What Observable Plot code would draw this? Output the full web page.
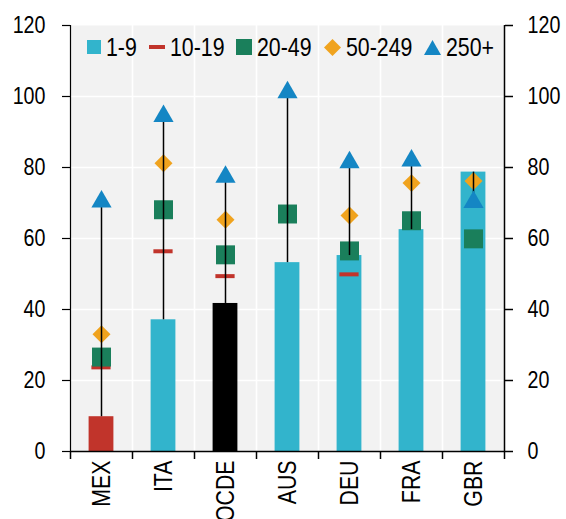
<!DOCTYPE html>
<html>
<head>
<meta charset="utf-8">
<script src="https://cdn.jsdelivr.net/npm/d3@7"></script>
<script src="https://cdn.jsdelivr.net/npm/@observablehq/plot@0.6"></script>
<style>
  body { margin: 0; background: #fff; }
  #chart { position: relative; width: 566px; height: 519px; overflow: hidden;
           font-family: "Liberation Sans", Arial, sans-serif; }
  #legend { position: absolute; left: 87px; top: 33px; height: 28px; display: flex; align-items: center;
            font-size: 26px; color: #000; white-space: nowrap; }
  #legend .sw { display: block; flex: none; }
  #legend span { display: inline-block; line-height: 28px; transform-origin: 0 50%; flex: none; }
</style>
</head>
<body>
<div id="chart"></div>
<script>
// ---- data ----
const countries = ["MEX", "ITA", "OCDE", "AUS", "DEU", "FRA", "GBR"];
const size1_9    = [9.8, 37.1, 41.7, 53.2, 55.2, 62.5, 78.7];
const size10_19  = [23.7, 56.4, 49.4, null, 49.9, null, null];
const size20_49  = [26.6, 68.1, 55.4, 66.9, 56.5, 65.0, 59.9];
const size50_249 = [33.0, 81.2, 65.3, null, 66.5, 75.6, 76.2];
const size250    = [71.2, 95.3, 78.2, 102.0, 82.3, 82.8, 71.1];
const seriesNames = ["1-9", "10-19", "20-49", "50-249", "250+"];
const yTicks = [0, 20, 40, 60, 80, 100, 120];

// ---- styles ----
const C = { cyan: "#32b4cc", red: "#c1342b", green: "#1a7f5b", orange: "#f0a31e", blue: "#1486c4" };
const barFillFor = c => c === "MEX" ? C.red : c === "OCDE" ? "#000000" : C.cyan;
const NARROW = 0.82; // horizontal condensing of text (reference uses a narrow face)

const rows = countries.map((c, i) => ({
  c, i, v1: size1_9[i], v10: size10_19[i], v20: size20_49[i], v50: size50_249[i], v250: size250[i]
}));
const xDomain = [-0.5, countries.length - 0.5];
const boundaries = d3.range(countries.length + 1).map(k => k - 0.5);
const half = 0.2;      // bar half-width in band units
const dashHalf = 0.155;

const plot = Plot.plot({
  width: 566,
  height: 519,
  marginTop: 25,
  marginBottom: 68,
  marginLeft: 70,
  marginRight: 62,
  style: { fontFamily: '"Liberation Sans", Arial, sans-serif', background: "white", overflow: "visible" },
  x: { type: "linear", domain: xDomain, axis: null },
  y: { domain: [0, 120], axis: null },
  color: { type: "identity" },
  marks: [
    Plot.frame({ fill: "#f2f2f2", stroke: "none" }),
    Plot.ruleY(yTicks.slice(1, -1), { stroke: "white", strokeWidth: 1.7 }),
    Plot.ruleX(boundaries.slice(1, -1), { stroke: "white", strokeWidth: 1.7 }),
    // 1-9 bars
    Plot.rectY(rows, { x1: d => d.i - half, x2: d => d.i + half, y: "v1", fill: d => barFillFor(d.c) }),
    // 10-19 dashes
    Plot.ruleY(rows.filter(d => d.v10 != null), { y: "v10", x1: d => d.i - dashHalf, x2: d => d.i + dashHalf, stroke: C.red, strokeWidth: 4 }),
    // 20-49 squares
    Plot.dot(rows.filter(d => d.v20 != null), { x: "i", y: "v20", symbol: "square", r: 10.7, fill: C.green, stroke: "none" }),
    // 50-249 diamonds
    Plot.dot(rows.filter(d => d.v50 != null), { x: "i", y: "v50", symbol: "diamond2", r: 8.1, fill: C.orange, stroke: "none" }),
    // connecting line 1-9 -> 250+
    Plot.ruleX(rows, { x: "i", y1: "v1", y2: "v250", stroke: "black", strokeWidth: 1.5 }),
    // 250+ triangles
    Plot.dot(rows, { x: "i", y: "v250", symbol: "triangle", r: 7.5, dy: 3, fill: C.blue, stroke: "none" }),
    // axes lines
    Plot.ruleX([xDomain[0]], { stroke: "black", strokeWidth: 1.2 }),
    Plot.ruleX([xDomain[1]], { stroke: "black", strokeWidth: 1.5 }),
    Plot.ruleY([0], { stroke: "black", strokeWidth: 1.5 }),
    Plot.axisY({ anchor: "left", ticks: yTicks, tickSize: 8, tickPadding: 17, fontSize: 24, label: null, stroke: "black", strokeWidth: 1.2 }),
    Plot.axisY({ anchor: "right", ticks: yTicks, tickSize: 8, tickPadding: 15, fontSize: 24, label: null, stroke: "black", strokeWidth: 1.5 }),
    Plot.axisX({ ticks: boundaries, tickSize: 8, tickFormat: () => "", label: null, stroke: "black", strokeWidth: 1.5 }),
    Plot.axisX({ ticks: d3.range(countries.length), tickSize: 0, tickPadding: 9, tickRotate: -90, fontSize: 26,
                 tickFormat: i => countries[i], label: null })
  ]
});

// condense all SVG text horizontally (along its own baseline) about its anchor
plot.querySelectorAll("text").forEach(t => {
  const ax = parseFloat(t.getAttribute("x") || "0") || 0;
  const tr = t.getAttribute("transform") || "";
  t.setAttribute("transform", `${tr} translate(${ax},0) scale(${NARROW},1) translate(${-ax},0)`.trim());
});

const chart = document.getElementById("chart");
chart.appendChild(plot);

// legend overlay
const legendSwatches = [
  `<svg class="sw" width="14" height="14"><rect width="14" height="14" fill="${C.cyan}"/></svg>`,
  `<svg class="sw" width="16" height="4"><rect width="16" height="4" fill="${C.red}"/></svg>`,
  `<svg class="sw" width="16" height="16"><rect width="16" height="16" fill="${C.green}"/></svg>`,
  `<svg class="sw" width="17" height="17"><polygon points="8.5,0 17,8.5 8.5,17 0,8.5" fill="${C.orange}"/></svg>`,
  `<svg class="sw" width="17" height="15"><polygon points="8.5,0 17,15 0,15" fill="${C.blue}"/></svg>`
];
const legend = document.createElement("div");
legend.id = "legend";
legend.innerHTML = seriesNames.map((n, k) => legendSwatches[k] + `<span>${n}</span>`).join("");
chart.appendChild(legend);
legend.querySelectorAll("span").forEach((s, k, all) => {
  const w = s.getBoundingClientRect().width;
  s.style.transform = `scaleX(${NARROW})`;
  s.style.marginLeft = "5px";
  s.style.marginRight = `${-(1 - NARROW) * w + (k < all.length - 1 ? 12 : 0)}px`;
});
</script>
</body>
</html>
